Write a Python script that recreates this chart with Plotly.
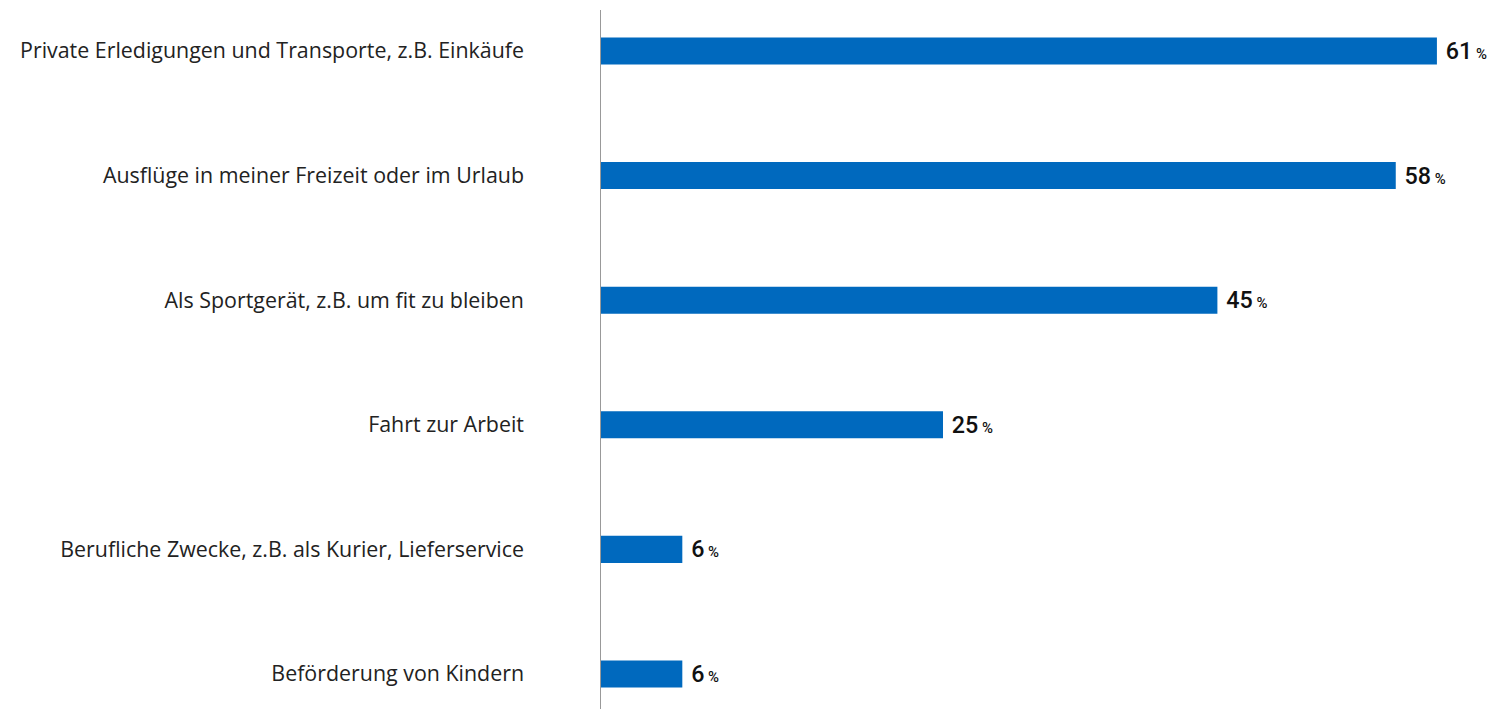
import plotly.graph_objects as go

categories = [
    "Private Erledigungen und Transporte, z.B. Einkäufe",
    "Ausflüge in meiner Freizeit oder im Urlaub",
    "Als Sportgerät, z.B. um fit zu bleiben",
    "Fahrt zur Arbeit",
    "Berufliche Zwecke, z.B. als Kurier, Lieferservice",
    "Beförderung von Kindern",
]
values = [61, 58, 45, 25, 6, 6]

labels = [f"\u00a0{v}<span style='font-size:16px'> %</span>" for v in values]

fig = go.Figure(go.Bar(
    x=values, y=categories, orientation="h",
    marker=dict(color="#0069BE", line=dict(width=0)),
    width=0.217,
    text=labels, textposition="outside", cliponaxis=False,
    textfont=dict(family="Roboto", size=25, color="#111111", weight=500),
    hoverinfo="skip",
))

# page body has an 8px margin, compensate so plot area sits at x=600..1500, y=10..709
fig.update_layout(
    width=1500, height=709,
    margin=dict(l=592, r=8, t=2, b=8, autoexpand=False),
    plot_bgcolor="white", paper_bgcolor="white",
    showlegend=False,
    xaxis=dict(range=[0, 900 / 13.72], visible=False),
    yaxis=dict(
        type="category", categoryorder="array", categoryarray=categories,
        range=[5.281, -0.329],
        showgrid=False, zeroline=False,
        showline=False, ticks="",
        ticklabelstandoff=75, automargin=False,
        tickfont=dict(family="Open Sans", size=21.4, color="#222222"),
    ),
    shapes=[dict(type="line", xref="x", yref="paper", x0=0, x1=0, y0=0, y1=1,
                 line=dict(color="#999999", width=2))],
)

fig.write_html("out.html")
